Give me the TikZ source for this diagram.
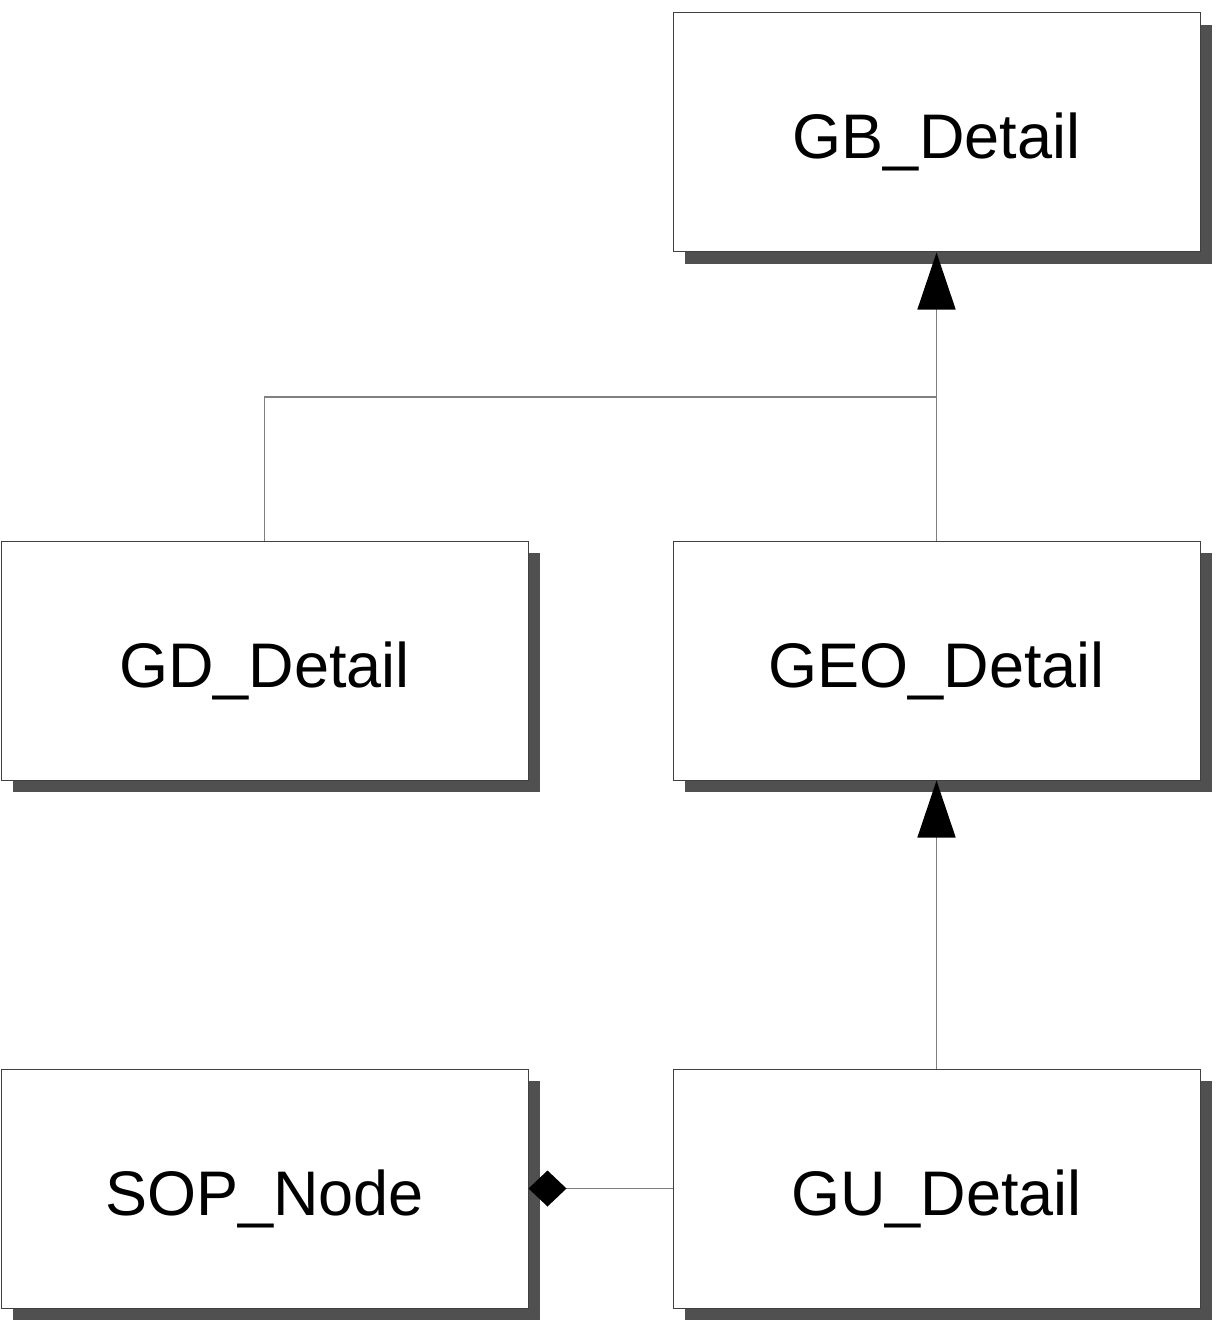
\documentclass[tikz,border=0pt]{standalone}
\usepackage{fontspec}
\setmainfont{Liberation Sans}
\usetikzlibrary{arrows.meta,shadows}
\definecolor{boxline}{HTML}{404040}
\definecolor{shadowgray}{HTML}{505050}
\definecolor{linkgray}{HTML}{808080}
\begin{document}
\begin{tikzpicture}[x=1pt,y=-1pt,
  classbox/.style={draw=boxline, line width=1pt, fill=white,
    minimum width=527pt, minimum height=239pt, inner sep=0pt,
    text height=53pt, text depth=0pt,
    font=\fontsize{63}{70}\selectfont,
    drop shadow={shadow xshift=12pt, shadow yshift=-12pt, fill=shadowgray, opacity=1}},
  link/.style={draw=linkgray, line width=1.5pt},
  inherit/.style={link, -{Triangle[width=38pt,length=57pt,color=black]}},
  owns/.style={link, -{Diamond[width=36pt,length=38pt,color=black]}}]
  \useasboundingbox (0,0) rectangle (1229,1321);
  \node[classbox] (gb)  at (936.5,132.5)  {GB\_Detail};
  \node[classbox] (gd)  at (264.5,660.5)  {GD\_Detail};
  \node[classbox] (geo) at (936.5,660.5)  {GEO\_Detail};
  \node[classbox] (sop) at (264.5,1188.5) {SOP\_Node};
  \node[classbox] (gu)  at (936.5,1188.5) {GU\_Detail};
  \coordinate (join) at (geo.north |- 0,397);
  \draw[link] (gd.north) |- (join);
  \draw[inherit] (geo.north) -- (gb.south);
  \draw[inherit] (gu.north) -- (geo.south);
  \draw[owns] (gu.west) -- (sop.east);
\end{tikzpicture}
\end{document}
